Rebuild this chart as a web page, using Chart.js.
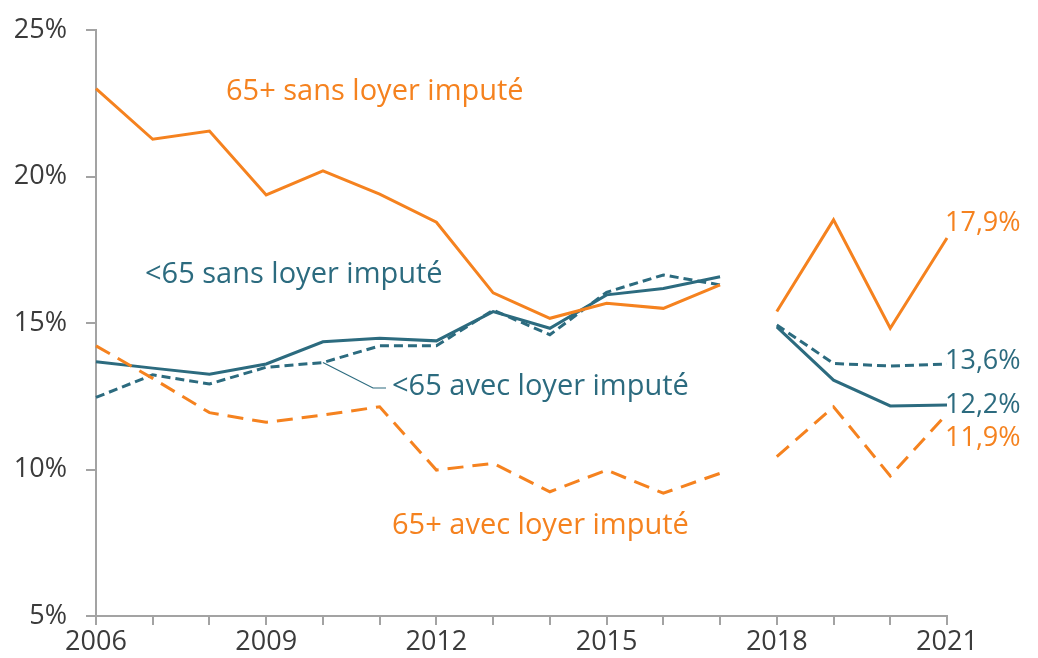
<!DOCTYPE html>
<html lang="fr">
<head>
<meta charset="UTF-8">
<title>Taux de pauvreté avec et sans loyer imputé</title>
<script src="https://cdn.jsdelivr.net/npm/chart.js"></script>
<style>
  html, body { margin: 0; padding: 0; background: #fff; }
</style>
</head>
<body>
<canvas id="chart" width="1038" height="658"></canvas>
<script>
// données (en %)
const years = ['2006','2007','2008','2009','2010','2011','2012','2013','2014','2015','2016','2017','2018','2019','2020','2021'];
const plusSans  = [23.0, 21.27, 21.55, 19.37, 20.19, 19.4, 18.44, 16.03, 15.16, 15.67, 15.5, 16.3, 15.39, 18.52, 14.82, 17.9];
const plusAvec  = [14.22, 13.11, 11.94, 11.61, 11.86, 12.14, 9.98, 10.21, 9.24, 9.98, 9.19, 9.87, 10.44, 12.14, 9.78, 11.9];
const moinsSans = [13.68, 13.46, 13.25, 13.6, 14.36, 14.48, 14.39, 15.39, 14.82, 15.96, 16.18, 16.58, 14.87, 13.05, 12.17, 12.2];
const moinsAvec = [12.46, 13.23, 12.92, 13.49, 13.65, 14.22, 14.22, 15.44, 14.6, 16.05, 16.64, 16.3, 14.93, 13.62, 13.53, 13.6];
const shownYears = ['2006','2009','2012','2015','2018','2021'];
const endLabels = ['17,9%', '11,9%', '12,2%', '13,6%'];
const seriesNames = ['65+ sans loyer imputé', '65+ avec loyer imputé', '<65 sans loyer imputé', '<65 avec loyer imputé'];

const ORANGE = '#F5821F';
const TEAL = '#2C6B7F';
const AXIS = '#A3A3A3';
const TXT = '#3B3B3B';
const FONT = '"Open Sans", "Noto Sans", sans-serif';

// pas de trait entre 2017 et 2018 (rupture de série)
const breakIdx = years.indexOf('2017');
const gap = { borderColor: c => c.p0DataIndex === breakIdx ? 'rgba(0,0,0,0)' : undefined };

const labelsPlugin = {
  id: 'labels',
  afterDatasetsDraw(chart) {
    const ctx = chart.ctx;
    ctx.save();
    ctx.textBaseline = 'middle';
    ctx.textAlign = 'left';

    // étiquettes des séries
    ctx.font = '29px ' + FONT;
    ctx.fillStyle = ORANGE;
    ctx.fillText(seriesNames[0], 226, 92);
    ctx.fillText(seriesNames[1], 392, 526);
    ctx.fillStyle = TEAL;
    ctx.fillText(seriesNames[2], 145, 275);
    ctx.fillText(seriesNames[3], 392, 387);

    // trait de rappel vers <65 avec loyer imputé
    const p = chart.getDatasetMeta(3).data[years.indexOf('2010')];
    ctx.strokeStyle = TEAL;
    ctx.lineWidth = 1.2;
    ctx.beginPath();
    ctx.moveTo(p.x, p.y);
    ctx.lineTo(373, 388);
    ctx.lineTo(386, 388);
    ctx.stroke();

    // valeurs 2021
    ctx.font = '27px ' + FONT;
    const last = years.length - 1;
    const offsets = [-15, 24, 0, -3];
    const colors = [ORANGE, ORANGE, TEAL, TEAL];
    endLabels.forEach((t, i) => {
      const pt = chart.getDatasetMeta(i).data[last];
      ctx.fillStyle = colors[i];
      ctx.fillText(t, pt.x - 2, pt.y + offsets[i]);
    });
    ctx.restore();
  }
};

new Chart(document.getElementById('chart'), {
  type: 'line',
  data: {
    labels: years,
    datasets: [
      { label: seriesNames[0], data: plusSans, borderColor: ORANGE, borderWidth: 3, segment: gap },
      { label: seriesNames[1], data: plusAvec, borderColor: ORANGE, borderWidth: 3, borderDash: [16, 9], segment: gap },
      { label: seriesNames[2], data: moinsSans, borderColor: TEAL, borderWidth: 3, segment: gap },
      { label: seriesNames[3], data: moinsAvec, borderColor: TEAL, borderWidth: 3, borderDash: [9, 5], segment: gap }
    ]
  },
  options: {
    responsive: false,
    animation: false,
    devicePixelRatio: 1,
    elements: { point: { radius: 0 }, line: { tension: 0, fill: false } },
    layout: { padding: { left: 0, right: 91, top: 30, bottom: 0 } },
    plugins: { legend: { display: false }, tooltip: { enabled: false } },
    scales: {
      x: {
        offset: false,
        afterFit: s => { s.height = 42; },
        border: { color: AXIS, width: 2 },
        grid: { drawOnChartArea: false, drawTicks: true, tickLength: 9, color: AXIS, lineWidth: 2 },
        ticks: {
          autoSkip: false, maxRotation: 0, padding: 1,
          color: TXT, font: { family: FONT, size: 27 },
          callback: (v, i) => shownYears.includes(years[i]) ? years[i] : ''
        }
      },
      y: {
        min: 5, max: 25,
        afterFit: s => { s.width = 96; s.paddingTop = 0; s.paddingBottom = 0; },
        border: { color: AXIS, width: 2 },
        grid: { drawOnChartArea: false, drawTicks: true, tickLength: 10, color: AXIS, lineWidth: 2 },
        ticks: {
          stepSize: 5, padding: 19,
          color: TXT, font: { family: FONT, size: 27 },
          callback: v => v + '%'
        }
      }
    }
  },
  plugins: [labelsPlugin]
});
</script>
</body>
</html>
